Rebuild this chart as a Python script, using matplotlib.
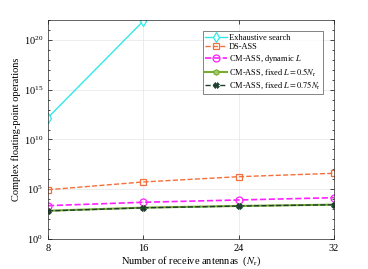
import numpy as np
import matplotlib
matplotlib.use("Agg")
import matplotlib.pyplot as plt

plt.rcParams['font.family'] = ['Liberation Serif', 'DejaVu Serif']
plt.rcParams['mathtext.fontset'] = 'stix'

antennas = [8, 16, 24, 32]
exhaustive_x = [8, 16]
exhaustive = [10**12.2, 10**21.9]
ds_ass = [10**4.95, 10**5.73, 10**6.26, 10**6.6]
cm_dynamic = [10**3.35, 10**3.69, 10**3.92, 10**4.15]
cm_fixed_05 = [10**2.84, 10**3.15, 10**3.32, 10**3.45]
cm_fixed_075 = [10**2.82, 10**3.13, 10**3.31, 10**3.44]

fig = plt.figure(figsize=(3.68, 2.69), dpi=100)
ax = fig.add_axes([48/368, 30/269, 286/368, 219/269])

ax.semilogy(exhaustive_x, exhaustive, '-', color='#33E8E8', marker='d', ms=5,
            mfc='white', mew=0.9, lw=1.0, label='Exhaustive search')
ax.semilogy(antennas, ds_ass, '--', color='#F4703A', marker='s', ms=4,
            mfc='none', mew=0.9, lw=1.0, label='DS-ASS')
ax.semilogy(antennas, cm_dynamic, '--', color='#FF1FFF', marker='o', ms=5,
            mfc='none', mew=0.9, lw=1.2, label='CM-ASS, dynamic $L$')
ax.semilogy(antennas, cm_fixed_05, '-', color='#77AC30', marker='h', ms=4,
            mfc='#A8C870', mew=0.8, lw=1.5, label='CM-ASS, fixed $L=0.5N_\\mathrm{r}$')
ax.semilogy(antennas, cm_fixed_075, '--', color='#1E3F30', marker='X', ms=4,
            mfc='#1E3F30', mew=0.5, lw=1.0, label='CM-ASS, fixed $L=0.75N_\\mathrm{r}$')

ax.set_xlim(8, 32)
ax.set_ylim(1, 1e22)
ax.set_xticks(antennas)
ax.set_yticks([1e0, 1e5, 1e10, 1e15, 1e20])
ax.yaxis.set_minor_locator(matplotlib.ticker.LogLocator(base=10, subs=[1.0], numticks=30))
ax.yaxis.set_minor_formatter(matplotlib.ticker.NullFormatter())
ax.tick_params(which='both', direction='in', top=True, right=True, labelsize=7.5, width=0.5)
ax.tick_params(which='major', length=3)
ax.tick_params(which='minor', length=1.5)
ax.grid(True, which='major', color='#E6E6E6', lw=0.5)
for s in ax.spines.values():
    s.set_linewidth(0.5)
    s.set_color('#262626')

ax.set_xlabel('Number of receive antennas  ($N_\\mathrm{r}$)', fontsize=7.5, labelpad=1)
ax.set_ylabel('Complex floating-point operations', fontsize=7.5, labelpad=2)

leg = ax.legend(loc='upper right', fontsize=6, frameon=True, fancybox=False,
                edgecolor='#262626', handlelength=2.6, borderpad=0.3,
                labelspacing=0.2, handletextpad=0.2, bbox_to_anchor=(0.976, 0.968))
leg.get_frame().set_linewidth(0.5)

fig.savefig('out.png', dpi=100)
